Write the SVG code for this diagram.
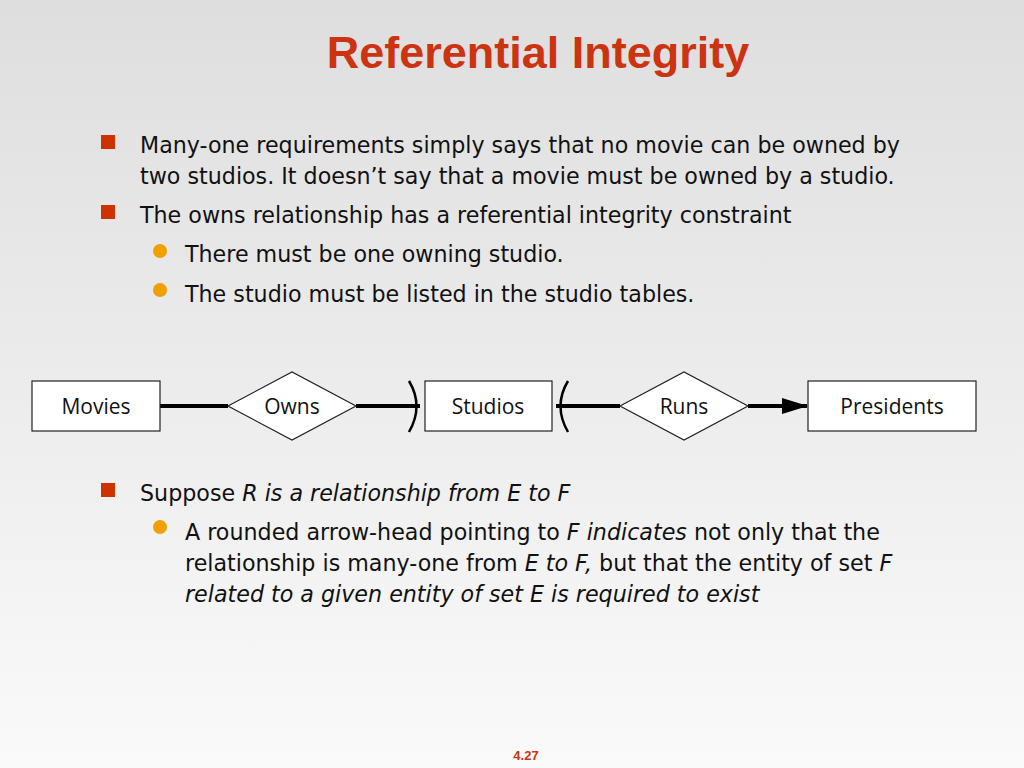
<svg xmlns="http://www.w3.org/2000/svg" width="1024" height="768" viewBox="0 0 1024 768">
<defs>
<linearGradient id="bg" x1="0" y1="0" x2="0" y2="1"><stop offset="0" stop-color="#dedede"/><stop offset="1" stop-color="#fafafa"/></linearGradient>
<marker id="arr" markerWidth="26" markerHeight="16" refX="25" refY="8" orient="auto" markerUnits="userSpaceOnUse"><path d="M0,0 L26,8 L0,16 Z" fill="#000"/></marker>
<style>
.t{font-family:"DejaVu Sans",Verdana,sans-serif;font-size:22.2px;fill:#111}
.n{font-family:"Open Sans","DejaVu Sans",sans-serif;font-size:21px;fill:#111;text-anchor:middle}
.box{fill:#fff;stroke:#222;stroke-width:1.2}
.ln{stroke:#000;stroke-width:4;fill:none}
.br{stroke:#000;stroke-width:2.5;fill:none}
.sq{fill:#cc3300}
.dot{fill:#f0a000}
</style>
</defs>
<rect width="1024" height="768" fill="url(#bg)"/>
<text x="538" y="68" text-anchor="middle" font-family="Liberation Sans,Arial,sans-serif" font-weight="bold" font-size="45" fill="#cc3311">Referential Integrity</text>
<rect class="sq" x="101" y="135" width="14" height="14"/>
<text class="t" x="140" y="153">Many-one requirements simply says that no movie can be owned by</text>
<text class="t" x="140" y="184">two studios. It doesn’t say that a movie must be owned by a studio.</text>
<rect class="sq" x="101" y="205" width="14" height="14"/>
<text class="t" x="140" y="223">The owns relationship has a referential integrity constraint</text>
<circle class="dot" cx="160" cy="251" r="7"/>
<text class="t" x="185" y="262">There must be one owning studio.</text>
<circle class="dot" cx="160" cy="290" r="7"/>
<text class="t" x="185" y="302">The studio must be listed in the studio tables.</text>
<g id="connectors">
<line class="ln" x1="160" y1="406" x2="228" y2="406"/>
<line class="ln" x1="356" y1="406" x2="420" y2="406"/>
<line class="ln" x1="556" y1="406" x2="620" y2="406"/>
<line class="ln" x1="748" y1="406" x2="807" y2="406" marker-end="url(#arr)"/>
<path class="br" d="M409,381 Q424,406 409,432"/>
<path class="br" d="M568,381 Q553,406 568,432"/>
</g>
<g id="movies"><rect class="box" x="32" y="381" width="128" height="50"/><text class="n" x="96" y="414">Movies</text></g>
<g id="owns"><polygon class="box" points="228,406 292,372 356,406 292,440"/><text class="n" x="292" y="414">Owns</text></g>
<g id="studios"><rect class="box" x="425" y="381" width="127" height="50"/><text class="n" x="488" y="414">Studios</text></g>
<g id="runs"><polygon class="box" points="620,406 684,372 748,406 684,440"/><text class="n" x="684" y="414">Runs</text></g>
<g id="presidents"><rect class="box" x="808" y="381" width="168" height="50"/><text class="n" x="892" y="414">Presidents</text></g>
<rect class="sq" x="101" y="483" width="14" height="14"/>
<text class="t" x="140" y="501">Suppose <tspan font-style="italic">R is a relationship from E to F</tspan></text>
<circle class="dot" cx="160" cy="527" r="7"/>
<text class="t" x="185" y="540"> A rounded arrow-head pointing to <tspan font-style="italic">F indicates</tspan> not only that the</text>
<text class="t" x="185" y="571">relationship is many-one from <tspan font-style="italic">E to F,</tspan>  but that the entity of set <tspan font-style="italic">F</tspan></text>
<text class="t" x="185" y="602" font-style="italic">related to a given entity of set E is required to exist</text>
<text x="526" y="760" text-anchor="middle" font-family="Liberation Sans,Arial,sans-serif" font-weight="bold" font-size="13" fill="#cc3311">4.27</text>
</svg>
